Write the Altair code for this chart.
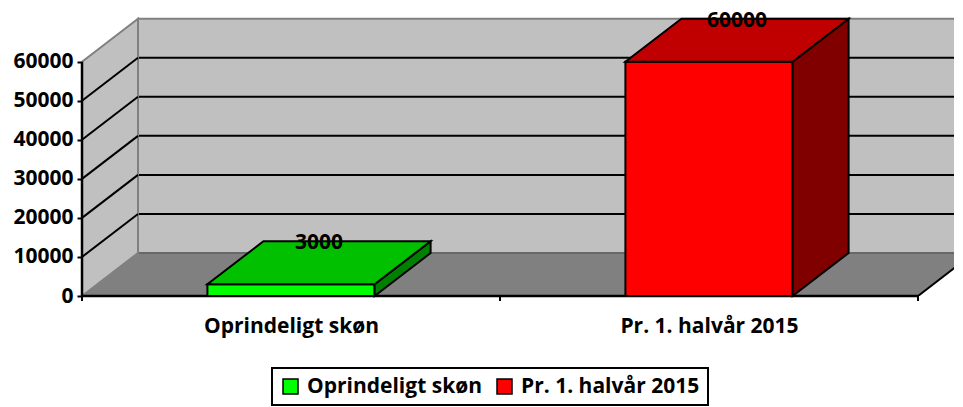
import altair as alt
import pandas as pd

# ---- data ----
categories = ["Oprindeligt skøn", "Pr. 1. halvår 2015"]
values = [3000, 60000]
front_colors = ["#00ff00", "#ff0000"]
top_colors = ["#00c000", "#c00000"]
side_colors = ["#008000", "#800000"]
y_ticks = [0, 10000, 20000, 30000, 40000, 50000, 60000]

# ---- style / geometry ----
WALL = "#c0c0c0"
WALL_EDGE = "#808080"
FLOOR = "#808080"
FONT = "Open Sans"
FS = 21

PLOT_W, PLOT_H = 872, 288
CAT_PX = 418
X_MAX = PLOT_W / CAT_PX
TOP = max(y_ticks)
Y_MAX = PLOT_H * TOP / 234.3
DX = 56 / CAT_PX              # depth offset in category units
DY = 43 * Y_MAX / PLOT_H      # depth offset in value units
BAR_LO, BAR_HI = 0.3, 0.7
N = len(categories)

xs = alt.Scale(domain=[0, X_MAX], nice=False, zero=False)
ys = alt.Scale(domain=[0, Y_MAX], nice=False, zero=False)

label_list = "[" + ",".join("'" + c + "'" for c in categories) + "]"
xaxis = alt.Axis(values=[i + 0.5 for i in range(N)],
                 labelExpr=label_list + "[floor(datum.value)]",
                 ticks=False, tickSize=0, domain=False, grid=False, title=None,
                 labelFont=FONT, labelFontSize=FS, labelFontWeight="bold",
                 labelColor="black", labelPadding=19, labelBaseline="top", labelLimit=400)
yaxis = alt.Axis(values=y_ticks, format="d", domain=False, grid=False, title=None,
                 ticks=True, tickSize=5, tickWidth=2, tickColor="black",
                 labelFont=FONT, labelFontSize=FS, labelFontWeight="bold",
                 labelColor="black", labelPadding=4, minExtent=74, maxExtent=74)


def X(f="x"):
    return alt.X(f, type="quantitative", scale=xs, axis=xaxis)


def Y(f="y"):
    return alt.Y(f, type="quantitative", scale=ys, axis=yaxis)


# back wall
df_bw = pd.DataFrame({"x": [DX], "x2": [N + DX], "y": [DY], "y2": [TOP + DY]})
back_wall = alt.Chart(df_bw).mark_rect(fill=WALL, stroke=WALL_EDGE, strokeWidth=2, clip=True).encode(
    x=X(), x2="x2", y=Y(), y2="y2")

# back gridlines
grid_vals = y_ticks[1:-1]
df_bg = pd.DataFrame({"x": [DX] * len(grid_vals), "x2": [N + DX] * len(grid_vals),
                      "y": [v + DY for v in grid_vals]})
back_grid = alt.Chart(df_bg).mark_rule(color="black", strokeWidth=2, clip=True).encode(
    x=X(), x2="x2", y=Y())

# floor
df_floor = pd.DataFrame({"y": [0, DY], "x": [0, DX], "x2": [N, N + DX]})
floor = alt.Chart(df_floor).mark_area(orient="horizontal", fill=FLOOR, clip=True).encode(
    y=Y(), x=X(), x2="x2")

df_fb = pd.DataFrame({"x": [DX], "x2": [N + DX], "y": [DY]})
floor_back = alt.Chart(df_fb).mark_rule(color="#606060", strokeWidth=1.5, clip=True).encode(
    x=X(), x2="x2", y=Y())

# side wall
df_side = pd.DataFrame({"x": [0, DX], "y": [TOP, TOP + DY], "y2": [0, DY]})
side_wall = alt.Chart(df_side).mark_area(fill=WALL, stroke=WALL_EDGE, strokeWidth=2).encode(
    x=X(), y=Y(), y2="y2")

df_sg = pd.DataFrame({"x": [0] * len(grid_vals), "x2": [DX] * len(grid_vals),
                      "y": grid_vals, "y2": [v + DY for v in grid_vals]})
side_grid = alt.Chart(df_sg).mark_rule(color="black", strokeWidth=2).encode(
    x=X(), x2="x2", y=Y(), y2="y2")

# floor edges
df_ff = pd.DataFrame({"x": [0], "x2": [N], "y": [0]})
floor_front = alt.Chart(df_ff).mark_rule(color="black", strokeWidth=2.5).encode(
    x=X(), x2="x2", y=Y())
df_fr = pd.DataFrame({"x": [N], "x2": [N + DX], "y": [0], "y2": [DY]})
floor_right = alt.Chart(df_fr).mark_rule(color="black", strokeWidth=2, clip=True).encode(
    x=X(), x2="x2", y=Y(), y2="y2")

# category ticks
df_xt = pd.DataFrame({"x": list(range(N + 1))})
x_ticks = alt.Chart(df_xt).mark_rule(color="black", strokeWidth=2).encode(
    x=X(), y=alt.value(PLOT_H), y2=alt.value(PLOT_H + 5))

# bars: front faces
df_front = pd.DataFrame({"cat": categories,
                         "x": [i + BAR_LO for i in range(N)],
                         "x2": [i + BAR_HI for i in range(N)],
                         "y": values, "y2": [0] * N})
legend = alt.Legend(title=None, orient="none", legendX=190, legendY=360,
                    direction="horizontal", strokeColor="black", padding=8,
                    symbolType="square", symbolSize=225, symbolStrokeColor="black",
                    symbolStrokeWidth=1.5, symbolOpacity=1, labelLimit=400,
                    labelFont=FONT, labelFontSize=FS, labelFontWeight="bold",
                    labelColor="black", columnPadding=12, labelOffset=6)
front = alt.Chart(df_front).mark_rect(stroke="black", strokeWidth=2, opacity=1).encode(
    x=X(), x2="x2", y=Y(), y2="y2",
    fill=alt.Fill("cat:N", scale=alt.Scale(domain=categories, range=front_colors), legend=legend))

# bars: top faces
rows = []
for i, (c, v) in enumerate(zip(categories, values)):
    rows.append({"cat": c, "col": top_colors[i], "y": v, "x": i + BAR_LO, "x2": i + BAR_HI})
    rows.append({"cat": c, "col": top_colors[i], "y": v + DY, "x": i + BAR_LO + DX, "x2": i + BAR_HI + DX})
df_top = pd.DataFrame(rows)
top = alt.Chart(df_top).mark_area(orient="horizontal", stroke="black", strokeWidth=2, opacity=1).encode(
    y=Y(), x=X(), x2="x2", fill=alt.Fill("col:N", scale=None), detail="cat:N")

# bars: side faces
rows = []
for i, (c, v) in enumerate(zip(categories, values)):
    rows.append({"cat": c, "col": side_colors[i], "x": i + BAR_HI, "y": v, "y2": 0})
    rows.append({"cat": c, "col": side_colors[i], "x": i + BAR_HI + DX, "y": v + DY, "y2": DY})
df_sidef = pd.DataFrame(rows)
side = alt.Chart(df_sidef).mark_area(stroke="black", strokeWidth=2, opacity=1).encode(
    x=X(), y=Y(), y2="y2", fill=alt.Fill("col:N", scale=None), detail="cat:N")

# front y axis line
df_ax = pd.DataFrame({"x": [0], "y": [0], "y2": [TOP]})
axis_line = alt.Chart(df_ax).mark_rule(color="black", strokeWidth=2.5).encode(
    x=X(), y=Y(), y2="y2")

# value labels
df_lab = pd.DataFrame({"x": [i + 0.5 + DX / 2 for i in range(N)],
                       "y": [v + DY for v in values], "t": values})
labels = alt.Chart(df_lab).mark_text(font=FONT, fontSize=FS, fontWeight="bold", color="black",
                                     baseline="middle", align="center", dy=2).encode(
    x=X(), y=Y(), text=alt.Text("t:Q", format="d"))

chart = alt.layer(back_wall, back_grid, floor, floor_back, side_wall, side_grid,
                  floor_front, floor_right, x_ticks, front, side, top, axis_line, labels
                  ).properties(width=PLOT_W, height=PLOT_H, background="white", padding=0
                  ).configure_view(stroke=None).configure_legend(strokeWidth=2)

chart.save("out.html", embed_options={"renderer": "svg", "actions": False})
